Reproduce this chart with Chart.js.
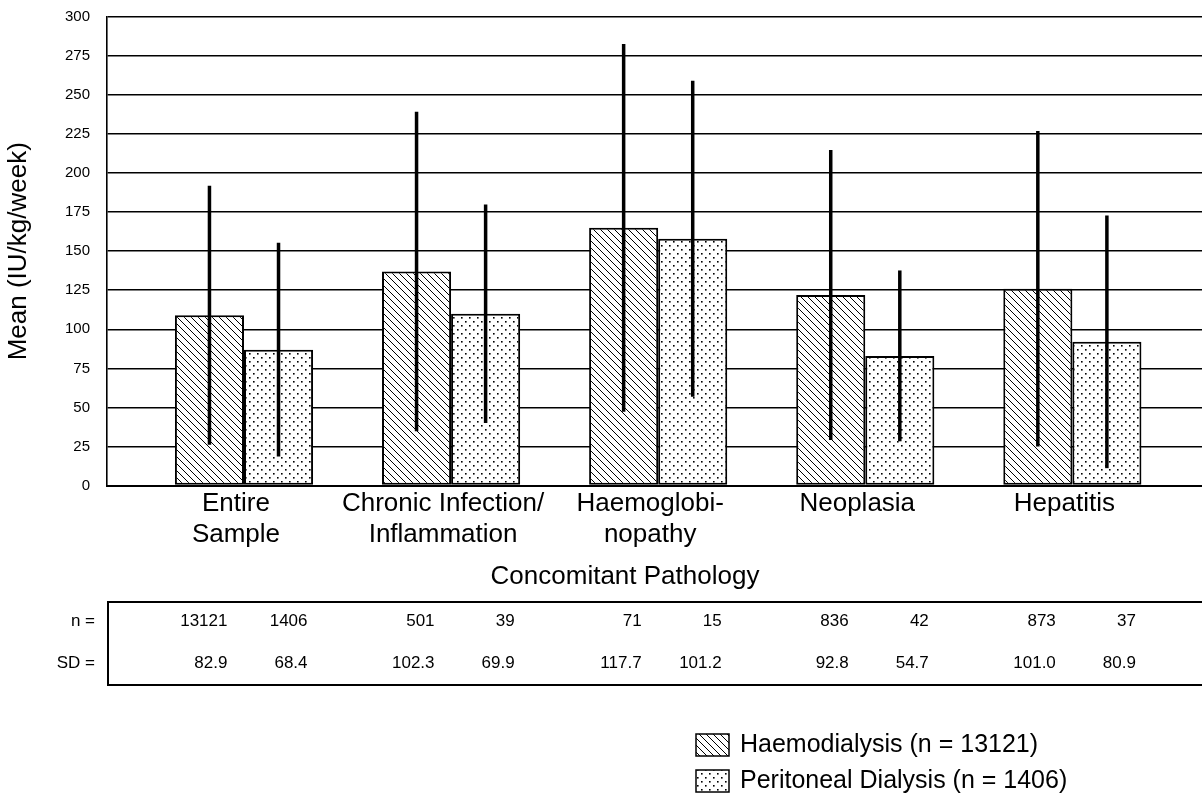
<!DOCTYPE html>
<html>
<head>
<meta charset="utf-8">
<title>Mean dose by concomitant pathology</title>
<script src="https://cdn.jsdelivr.net/npm/chart.js@4.4.1/dist/chart.umd.min.js"></script>
<style>
  html, body { margin: 0; padding: 0; background: #fff; }
</style>
</head>
<body>
<canvas id="chart" width="1202" height="794"></canvas>
<script>
// chart data
var categories = [['Entire', 'Sample'], ['Chronic Infection/', 'Inflammation'], ['Haemoglobi-', 'nopathy'], ['Neoplasia'], ['Hepatitis']];
var hdMean = [109, 137, 165, 122, 126];
var pdMean = [87, 110, 158, 83, 92];
var hdSD = [82.9, 102.3, 117.7, 92.8, 101.0];
var pdSD = [68.4, 69.9, 101.2, 54.7, 80.9];
var hdN = ['13121', '501', '71', '836', '873'];
var pdN = ['1406', '39', '15', '42', '37'];

var FONT = "'Liberation Sans', Arial, Helvetica, sans-serif";
var canvas = document.getElementById('chart');
var mainCtx = canvas.getContext('2d');

// fill patterns: diagonal hatch for haemodialysis, dots for peritoneal
function makePattern(size, draw) {
	var tile = document.createElement('canvas');
	tile.width = size; tile.height = size;
	var g = tile.getContext('2d');
	g.fillStyle = '#fff';
	g.fillRect(0, 0, size, size);
	g.fillStyle = '#000';
	g.strokeStyle = '#000';
	draw(g, size);
	return mainCtx.createPattern(tile, 'repeat');
}
var hatch = makePattern(7, function (g, s) {
	g.lineWidth = 1;
	g.beginPath();
	g.moveTo(-1, -1); g.lineTo(s + 1, s + 1);
	g.moveTo(-1, s - 1); g.lineTo(1, s + 1);
	g.moveTo(s - 1, -1); g.lineTo(s + 1, 1);
	g.stroke();
});
var dots = makePattern(8, function (g) {
	g.fillRect(1, 1, 1.6, 1.6);
	g.fillRect(5, 5, 1.6, 1.6);
});

function points(arr) {
	return arr.map(function (v, i) { return { x: i, y: v }; });
}

var extras = {
	id: 'extras',
	afterDatasetsDraw: function (chart) {
		// mean +/- SD whiskers
		var ctx = chart.ctx, y = chart.scales.y;
		ctx.save();
		ctx.strokeStyle = '#000';
		ctx.lineWidth = 3.5;
		[[hdMean, hdSD], [pdMean, pdSD]].forEach(function (s, d) {
			chart.getDatasetMeta(d).data.forEach(function (bar, i) {
				ctx.beginPath();
				ctx.moveTo(bar.x, y.getPixelForValue(s[0][i] - s[1][i]));
				ctx.lineTo(bar.x, y.getPixelForValue(s[0][i] + s[1][i]));
				ctx.stroke();
			});
		});
		ctx.restore();
	},
	afterDraw: function (chart) {
		var ctx = chart.ctx;
		var hdBars = chart.getDatasetMeta(0).data, pdBars = chart.getDatasetMeta(1).data;
		ctx.save();
		ctx.fillStyle = '#000';
		ctx.strokeStyle = '#000';

		// x axis title
		ctx.font = '26px ' + FONT;
		ctx.textAlign = 'center';
		ctx.textBaseline = 'middle';
		ctx.fillText('Concomitant Pathology', 625, 577);

		// n / SD table
		ctx.lineWidth = 2;
		ctx.strokeRect(108, 602, 1110, 83);
		ctx.font = '17px ' + FONT;
		ctx.textAlign = 'right';
		ctx.fillText('n =', 95, 621);
		ctx.fillText('SD =', 95, 663);
		for (var i = 0; i < categories.length; i++) {
			ctx.fillText(hdN[i], hdBars[i].x + 18, 621);
			ctx.fillText(pdN[i], pdBars[i].x + 29, 621);
			ctx.fillText(hdSD[i].toFixed(1), hdBars[i].x + 18, 663);
			ctx.fillText(pdSD[i].toFixed(1), pdBars[i].x + 29, 663);
		}

		// legend
		ctx.lineWidth = 1.5;
		ctx.font = '25px ' + FONT;
		ctx.textAlign = 'left';
		[[hatch, 'Haemodialysis (n = ' + hdN[0] + ')', 745], [dots, 'Peritoneal Dialysis (n = ' + pdN[0] + ')', 781]].forEach(function (it) {
			ctx.fillStyle = it[0];
			ctx.fillRect(696, it[2] - 11, 33, 22);
			ctx.strokeRect(696, it[2] - 11, 33, 22);
			ctx.fillStyle = '#000';
			ctx.fillText(it[1], 740, it[2]);
		});
		ctx.restore();
	}
};

new Chart(canvas, {
	type: 'bar',
	data: {
		datasets: [
			{ label: 'Haemodialysis', data: points(hdMean), backgroundColor: hatch, borderColor: '#000', borderWidth: 2, borderSkipped: false },
			{ label: 'Peritoneal Dialysis', data: points(pdMean), backgroundColor: dots, borderColor: '#000', borderWidth: 2, borderSkipped: false }
		]
	},
	options: {
		responsive: false,
		animation: false,
		categoryPercentage: 0.667,
		barPercentage: 1,
		layout: { padding: { top: 8, right: 0, bottom: 0, left: 0 } },
		plugins: { legend: { display: false }, tooltip: { enabled: false } },
		scales: {
			x: {
				type: 'linear', min: -0.6615, max: 4.626, offset: false,
				grid: { display: false, drawTicks: false },
				border: { display: true, color: '#000', width: 2 },
				afterBuildTicks: function (s) { s.ticks = categories.map(function (c, i) { return { value: i }; }); },
				afterFit: function (s) { s.height = 308.5; },
				ticks: {
					autoSkip: false, maxRotation: 0, padding: 3, labelOffset: -8, color: '#000',
					font: { family: FONT, size: 26, lineHeight: 1.2 },
					callback: function (v) { return categories[v]; }
				}
			},
			y: {
				min: 0, max: 300,
				// invisible tick marks push the labels left without adding top padding
				grid: { color: '#000', lineWidth: 1.6, drawTicks: true, tickLength: 9, tickColor: 'rgba(0,0,0,0)' },
				border: { color: '#000', width: 1.6 },
				afterFit: function (s) { s.width = 107; },
				ticks: { stepSize: 25, padding: 8, color: '#000', font: { family: FONT, size: 15 } },
				title: { display: true, text: 'Mean (IU/kg/week)', color: '#000', font: { family: FONT, size: 26 }, padding: { top: 3, bottom: 0 } }
			}
		}
	},
	plugins: [extras]
});
</script>
</body>
</html>
